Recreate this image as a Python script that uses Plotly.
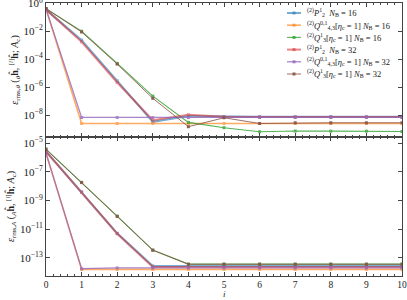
import plotly.graph_objects as go

iters = [0, 1, 2, 3, 4, 5, 6, 7, 8, 9, 10]

labels = [
    "<sup>(2)</sup><i>P</i><sup>1</sup><sub>2</sub>  <i>N</i><sub>B</sub> = 16",
    "<sup>(2)</sup><i>Q</i><sup>0,1</sup><sub>4,3</sub>[<i>η</i><sub>c</sub> = 1] <i>N</i><sub>B</sub> = 16",
    "<sup>(2)</sup><i>Q</i><sup>1</sup><sub>3</sub>[<i>η</i><sub>c</sub> = 1] <i>N</i><sub>B</sub> = 16",
    "<sup>(2)</sup><i>P</i><sup>1</sup><sub>2</sub>  <i>N</i><sub>B</sub> = 32",
    "<sup>(2)</sup><i>Q</i><sup>0,1</sup><sub>4,3</sub>[<i>η</i><sub>c</sub> = 1] <i>N</i><sub>B</sub> = 32",
    "<sup>(2)</sup><i>Q</i><sup>1</sup><sub>3</sub>[<i>η</i><sub>c</sub> = 1] <i>N</i><sub>B</sub> = 32",
]

# log10 of errors, top panel (theta)
theta_p2_16 = [-0.45, -2.64, -5.55, -8.48, -8.07, -8.12, -8.12, -8.12, -8.12, -8.12, -8.12]
theta_q43_16 = [-0.40, -8.60, -8.60, -8.60, -8.60, -8.60, -8.60, -8.60, -8.60, -8.60, -8.60]
theta_q3_16 = [-0.38, -2.00, -4.30, -6.64, -8.52, -8.90, -9.19, -9.14, -9.15, -9.15, -9.17]
theta_p2_32 = [-0.45, -2.76, -5.67, -8.36, -7.98, -8.12, -8.13, -8.13, -8.13, -8.13, -8.13]
theta_q43_32 = [-0.40, -8.17, -8.17, -8.17, -8.17, -8.17, -8.17, -8.17, -8.17, -8.17, -8.17]
theta_q3_32 = [-0.38, -2.05, -4.35, -6.80, -8.83, -8.19, -8.60, -8.55, -8.55, -8.55, -8.55]

# log10 of errors, bottom panel (A)
a_p2_16 = [-5.58, -8.41, -11.30, -13.58, -13.58, -13.58, -13.58, -13.58, -13.58, -13.58, -13.58]
a_q43_16 = [-5.70, -13.82, -13.82, -13.82, -13.82, -13.82, -13.82, -13.82, -13.82, -13.82, -13.82]
a_q3_16 = [-5.42, -7.74, -10.10, -12.47, -13.45, -13.45, -13.45, -13.45, -13.45, -13.45, -13.45]
a_p2_32 = [-5.58, -8.43, -11.33, -13.65, -13.65, -13.65, -13.65, -13.65, -13.65, -13.65, -13.65]
a_q43_32 = [-5.70, -13.77, -13.72, -13.72, -13.72, -13.72, -13.72, -13.72, -13.72, -13.72, -13.72]
a_q3_32 = [-5.44, -7.76, -10.12, -12.48, -13.46, -13.46, -13.46, -13.46, -13.46, -13.46, -13.46]

colors = ["#1f77b4", "#ff7f0e", "#2ca02c", "#d62728", "#9467bd", "#8c564b"]
widths = [2.0, 1.6, 1.1, 2.0, 1.3, 0.9]
opac = [0.6, 0.65, 0.8, 0.55, 0.8, 0.95]

top_series = [theta_p2_16, theta_q43_16, theta_q3_16, theta_p2_32, theta_q43_32, theta_q3_32]
bot_series = [a_p2_16, a_q43_16, a_q3_16, a_p2_32, a_q43_32, a_q3_32]

fig = go.Figure()
for k in range(6):
    fig.add_trace(go.Scatter(
        x=iters, y=[10 ** v for v in top_series[k]], mode="lines+markers",
        name=labels[k], line=dict(color=colors[k], width=widths[k]),
        marker=dict(color=colors[k], size=3, symbol="square"),
        opacity=opac[k], xaxis="x", yaxis="y", showlegend=False))
for k in range(6):
    fig.add_trace(go.Scatter(
        x=iters, y=[10 ** v for v in bot_series[k]], mode="lines+markers",
        name=labels[k], line=dict(color=colors[k], width=widths[k]),
        marker=dict(color=colors[k], size=3, symbol="square"),
        opacity=opac[k], xaxis="x2", yaxis="y2", showlegend=False))

font_family = "Liberation Serif"
axcol = "#444444"
common_x = dict(range=[0, 10], tick0=0, dtick=1, ticks="inside", ticklen=4,
                tickcolor=axcol, showline=True, linecolor=axcol, linewidth=1,
                mirror="ticks", showgrid=False, zeroline=False, automargin=False,
                ticklabeloverflow="allow", tickfont=dict(size=9.5),
                minor=dict(dtick=0.2, ticks="inside", ticklen=2, tickcolor=axcol))
common_y = dict(type="log", ticks="inside", ticklen=4, tickcolor=axcol,
                showline=True, linecolor=axcol, linewidth=1, mirror="ticks",
                showgrid=False, zeroline=False, automargin=False,
                ticklabeloverflow="allow")

top_tv = [0, -2, -4, -6, -8]
bot_tv = [-5, -7, -9, -11, -13]

def ttext(v):
    return "10<sup>%s</sup>" % (str(v).replace("-", "−"))

# Manual legend (compact, like the reference), in pixel layout terms
W, H = 407, 300
ML, MR, MT, MB = 46, 5, 3, 24
pw, ph = W - ML - MR, H - MT - MB

def px2x(px):
    return (px - ML) / pw

def py2y(py):
    return (H - MB - py) / ph

annotations = [dict(text="<i>i</i>", xref="paper", yref="paper", x=0.5, y=0,
                    yshift=-18, yanchor="middle", showarrow=False,
                    font=dict(size=9))]
shapes = []
for k in range(6):
    yc = py2y(13 + 12.2 * k)
    shapes.append(dict(type="line", xref="paper", yref="paper",
                       x0=px2x(287), x1=px2x(301), y0=yc, y1=yc,
                       line=dict(color=colors[k], width=widths[k]), opacity=opac[k]))
    shapes.append(dict(type="rect", xref="paper", yref="paper",
                       xsizemode="pixel", ysizemode="pixel",
                       xanchor=px2x(294), yanchor=yc, x0=-1.5, x1=1.5, y0=-1.5, y1=1.5,
                       fillcolor=colors[k], line=dict(width=0), opacity=opac[k]))
    annotations.append(dict(text=labels[k], xref="paper", yref="paper",
                            x=px2x(305), y=yc, xanchor="left", yanchor="middle",
                            showarrow=False, font=dict(size=8.5, family=font_family)))

fig.update_layout(
    width=W, height=H,
    margin=dict(l=ML, r=MR, t=MT, b=MB),
    paper_bgcolor="white", plot_bgcolor="white",
    font=dict(family=font_family, size=11, color="#222222"),
    xaxis=dict(**common_x, anchor="y", matches="x2", showticklabels=False),
    xaxis2=dict(**common_x, anchor="y2"),
    yaxis=dict(**common_y, domain=[0.509, 1], anchor="x", range=[-9.57, 0.02],
               tickvals=[10 ** v for v in top_tv], ticktext=[ttext(v) for v in top_tv],
               title=dict(text="<i>ε</i><sub>rms,<i>θ</i></sub> (<sub><i>θ</i></sub><b>ĥ</b>, <sup>[<i>i</i>]</sup><b>ĥ</b>; <i>A</i><sub>c</sub>)",
                          standoff=3, font=dict(size=10))),
    yaxis2=dict(**common_y, domain=[0, 0.509], anchor="x2", range=[-14.28, -4.58],
                tickvals=[10 ** v for v in bot_tv], ticktext=[ttext(v) for v in bot_tv],
                title=dict(text="<i>ε</i><sub>rms,<i>A</i></sub> (<sub><i>A</i></sub><b>ĥ</b>, <sup>[<i>i</i>]</sup><b>ĥ</b>; <i>A</i><sub>c</sub>)",
                           standoff=3, font=dict(size=10))),
    annotations=annotations,
    shapes=shapes,
    showlegend=False,
)

fig.write_html("out.html", config={"displayModeBar": False},
               post_script="document.body.style.margin='0';document.body.style.overflow='hidden';")
